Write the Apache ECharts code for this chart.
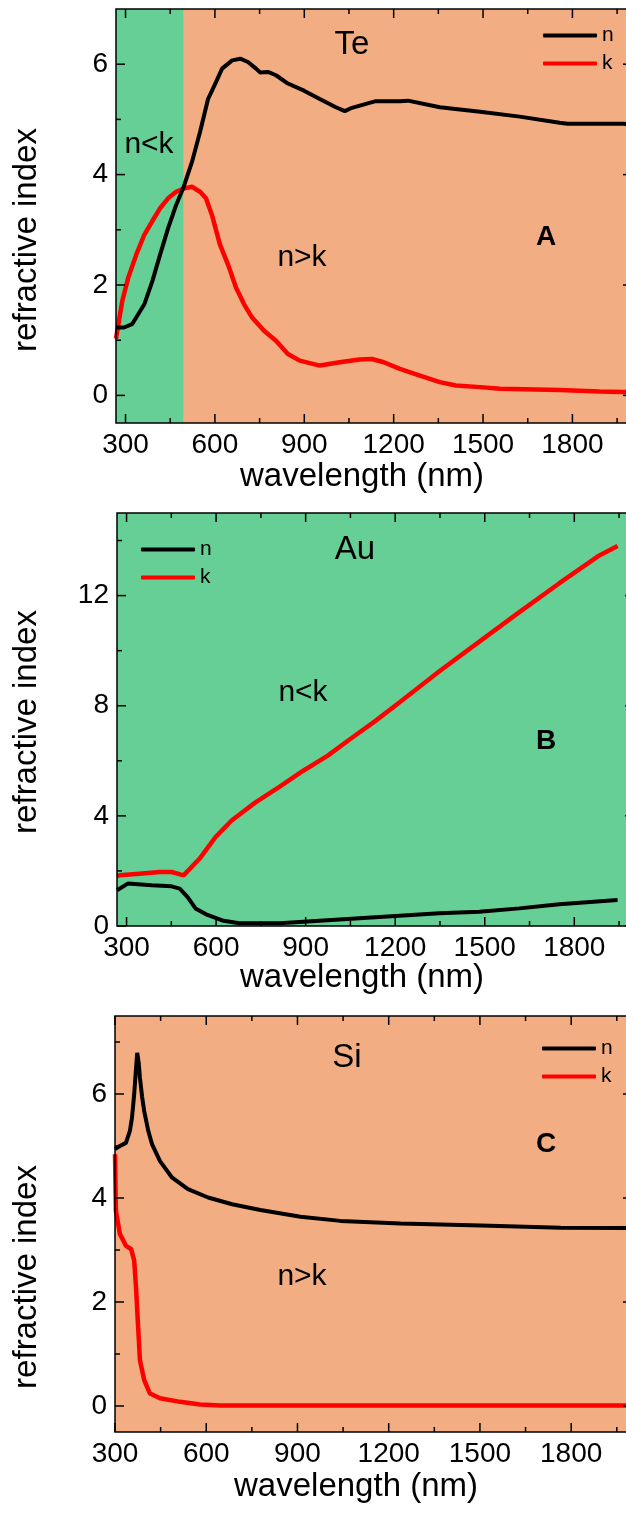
<!DOCTYPE html>
<html><head><meta charset="utf-8">
<script src="https://cdn.jsdelivr.net/npm/echarts@6/dist/echarts.min.js"></script>
<style>html,body{margin:0;padding:0;background:#fff;overflow:hidden}#c{width:626px;height:1513px}</style>
</head><body><div id="c"></div><script>
// ---------- DATA ----------
// Panel A: Te
const teNWl = [268,295,322,363,390,416,443,470,494,523,550,577,604,624,658,685,711,738,752,778,805,845,899,952,1006,1036,1060,1113,1140,1221,1248,1355,1490,1623,1757,1784,1972,2000];
const teN   = [1.23,1.23,1.29,1.65,2.07,2.55,3.03,3.45,3.76,4.23,4.77,5.37,5.68,5.92,6.07,6.10,6.04,5.92,5.85,5.86,5.80,5.65,5.52,5.37,5.22,5.15,5.21,5.29,5.33,5.33,5.34,5.22,5.14,5.05,4.94,4.92,4.92,4.91];
const teKWl = [268,289,309,336,363,389,416,443,470,497,523,550,570,590,617,644,671,698,725,765,805,845,885,952,1019,1086,1127,1167,1221,1288,1355,1409,1490,1557,1757,1891,1972,2000];
const teK   = [1.03,1.71,2.13,2.55,2.91,3.15,3.39,3.57,3.69,3.75,3.78,3.69,3.57,3.27,2.73,2.37,1.95,1.65,1.41,1.17,0.99,0.75,0.63,0.54,0.60,0.65,0.66,0.60,0.48,0.36,0.24,0.18,0.15,0.12,0.10,0.07,0.06,0.06];
const teNkBoundary = [268, 494]; // n<k region (green)

// Panel B: Au
const auNWl = [268,270,304,384,451,478,504,531,571,625,678,812,946,1080,1214,1348,1482,1616,1750,1945];
const auN   = [1.30,1.36,1.54,1.48,1.44,1.36,1.06,0.64,0.40,0.19,0.10,0.10,0.19,0.28,0.37,0.46,0.52,0.64,0.79,0.94];
const auKWl = [268,277,343,411,451,491,545,598,652,732,812,892,973,1053,1134,1214,1348,1482,1616,1750,1884,1945];
const auK   = [1.82,1.84,1.90,1.96,1.96,1.84,2.45,3.23,3.83,4.49,5.05,5.64,6.18,6.82,7.45,8.12,9.25,10.33,11.40,12.45,13.46,13.80];

// Panel C: Si
const siNWl = [300,316,336,349,356,363,368,373,378,382,389,396,409,422,448,488,540,606,685,778,910,1041,1239,1503,1766,2000];
const siN   = [4.94,5.00,5.06,5.29,5.55,5.99,6.40,6.79,6.60,6.31,5.95,5.67,5.30,5.03,4.71,4.39,4.17,4.01,3.88,3.77,3.64,3.56,3.51,3.47,3.43,3.42];
const siKWl = [300,303,316,336,353,363,369,376,382,396,415,448,514,580,646,2000];
const siK   = [4.84,3.75,3.31,3.08,3.02,2.80,2.29,1.52,0.88,0.50,0.24,0.15,0.08,0.03,0.01,0.01];

// Tick values
const xMajorTicks = [300,600,900,1200,1500,1800];
const xMinorTicks = [450,750,1050,1350,1650,1950];
const teYMajor = [0,2,4,6], teYMinor = [1,3,5];
const auYMajor = [0,4,8,12], auYMinor = [2,6,10,14];
const siYMajor = [0,2,4,6], siYMinor = [1,3,5,7];

// ---------- STYLE / LAYOUT ----------
const FONT = '"Liberation Sans", Arial, sans-serif';
const GREEN = '#66CF95', ORANGE = '#F2AE82';
const zip = (a, b) => a.map((v, i) => [v, b[i]]);

const panels = [
  {grid:{left:116, top:9, width:516, height:414}, bg:ORANGE, xmin:268, xmax:2000, ymin:-0.5, ymax:7,
   yMajor:teYMajor, yMinor:teYMinor, n:zip(teNWl,teN), k:zip(teKWl,teK), area:teNkBoundary,
   legend:{left:543, top:25}, xName:[362, 477], yName:[27, 240]},
  {grid:{left:117, top:513, width:517, height:413}, bg:GREEN, xmin:268, xmax:2000, ymin:0, ymax:15,
   yMajor:auYMajor, yMinor:auYMinor, n:zip(auNWl,auN), k:zip(auKWl,auK), area:null,
   legend:{left:141, top:539}, xName:[362, 978], yName:[27, 722]},
  {grid:{left:115, top:1016, width:517, height:416}, bg:ORANGE, xmin:300, xmax:2000, ymin:-0.5, ymax:7.5,
   yMajor:siYMajor, yMinor:siYMinor, n:zip(siNWl,siN), k:zip(siKWl,siK), area:null,
   legend:{left:542, top:1038}, xName:[356, 1487], yName:[27, 1277]}
];

function mainAxis(isX, gi, min, max, majors) {
  return {type:'value', gridIndex:gi, position: isX ? 'bottom' : 'left', min:min, max:max, z:10,
    splitLine:{show:false},
    axisLine:{show:false, onZero:false},
    axisTick:{show:false},
    axisLabel:{show:true, customValues:majors.slice(), margin:8, color:'#000', fontFamily:FONT, fontSize:28,
               formatter:(v) => String(v)}};
}

// Frame + inward ticks on all four sides, placed through the axes' own scales (api.coord)
function frameSeries(i, p) {
  return {type:'custom', xAxisIndex:i, yAxisIndex:i, z:6, silent:true, clip:false,
    data:[[p.xmin, p.ymin]],
    renderItem:function (params, api) {
      const bl = api.coord([p.xmin, p.ymin]);
      const tr = api.coord([p.xmax, p.ymax]);
      const x0 = bl[0], y0 = bl[1], x1 = tr[0], y1 = tr[1];
      const st = {stroke:'#000', lineWidth:1.5, fill:null};
      const kids = [{type:'rect', shape:{x:x0, y:y1, width:x1 - x0, height:y0 - y1}, style:st}];
      const line = (ax, ay, bx, by) => kids.push({type:'line', shape:{x1:ax, y1:ay, x2:bx, y2:by}, style:st});
      const xt = (vals, len) => vals.forEach(v => {
        const x = api.coord([v, p.ymin])[0];
        line(x, y0, x, y0 - len); line(x, y1, x, y1 + len);
      });
      const yt = (vals, len) => vals.forEach(v => {
        const y = api.coord([p.xmin, v])[1];
        line(x0, y, x0 + len, y); line(x1, y, x1 - len, y);
      });
      xt(xMajorTicks, 9); xt(xMinorTicks, 5); yt(p.yMajor, 9); yt(p.yMinor, 5);
      return {type:'group', children:kids};
    }};
}

const xAxes = [], yAxes = [], grids = [], series = [], legends = [];

const txt = (text, x, y, size, bold, rot) => ({type:'text', x:x, y:y, rotation:rot || 0, z:100, style:{text:text, x:0, y:0,
  font:(bold ? 'bold ' : '') + size + 'px ' + FONT, fill:'#000',
  textAlign:'center', textVerticalAlign:'middle', align:'center', verticalAlign:'middle'}});
const graphics = [];

panels.forEach((p, i) => {
  grids.push({show:true, backgroundColor:p.bg, borderWidth:0, containLabel:false, outerBoundsMode:'none',
    left:p.grid.left, top:p.grid.top, width:p.grid.width, height:p.grid.height});
  xAxes.push(mainAxis(true, i, p.xmin, p.xmax, xMajorTicks));
  yAxes.push(mainAxis(false, i, p.ymin, p.ymax, p.yMajor));
  const kSeries = {type:'line', name:'k', xAxisIndex:i, yAxisIndex:i, data:p.k, showSymbol:false, symbol:'none',
    lineStyle:{color:'#FF0000', width:4.5}, itemStyle:{color:'#FF0000'}, z:3, silent:true};
  if (p.area) {
    kSeries.markArea = {silent:true, itemStyle:{color:GREEN, opacity:1, borderWidth:0},
      data:[[{xAxis:p.area[0]}, {xAxis:p.area[1]}]]};
  }
  series.push(kSeries);
  series.push({type:'line', name:'n', xAxisIndex:i, yAxisIndex:i, data:p.n, showSymbol:false, symbol:'none',
    lineStyle:{color:'#000', width:4}, itemStyle:{color:'#000'}, z:4, silent:true});
  series.push(frameSeries(i, p));
  legends.push({data:['n','k'], orient:'vertical', left:p.legend.left, top:p.legend.top, padding:0,
    itemWidth:54, itemHeight:4, itemGap:7, icon:'roundRect', selectedMode:false,
    textStyle:{fontFamily:FONT, fontSize:21, color:'#000', lineHeight:20}});
  graphics.push(txt('wavelength (nm)', p.xName[0], p.xName[1], 33));
  graphics.push(txt('refractive index', p.yName[0], p.yName[1], 33, false, Math.PI / 2));
});

graphics.push(
  txt('Te', 352, 45, 33), txt('n<k', 149, 145, 30), txt('n>k', 302, 258, 30), txt('A', 546, 237, 28, true),
  txt('Au', 355, 550, 33), txt('n<k', 303, 693, 30), txt('B', 546, 741, 28, true),
  txt('Si', 347, 1058, 33), txt('n>k', 302, 1277, 30), txt('C', 546, 1144, 28, true)
);

const option = {
  animation:false,
  backgroundColor:'#fff',
  grid:grids, xAxis:xAxes, yAxis:yAxes, series:series, legend:legends, graphic:graphics
};

const chart = echarts.init(document.getElementById('c'), null, {renderer:'canvas'});
chart.setOption(option);
</script></body></html>
